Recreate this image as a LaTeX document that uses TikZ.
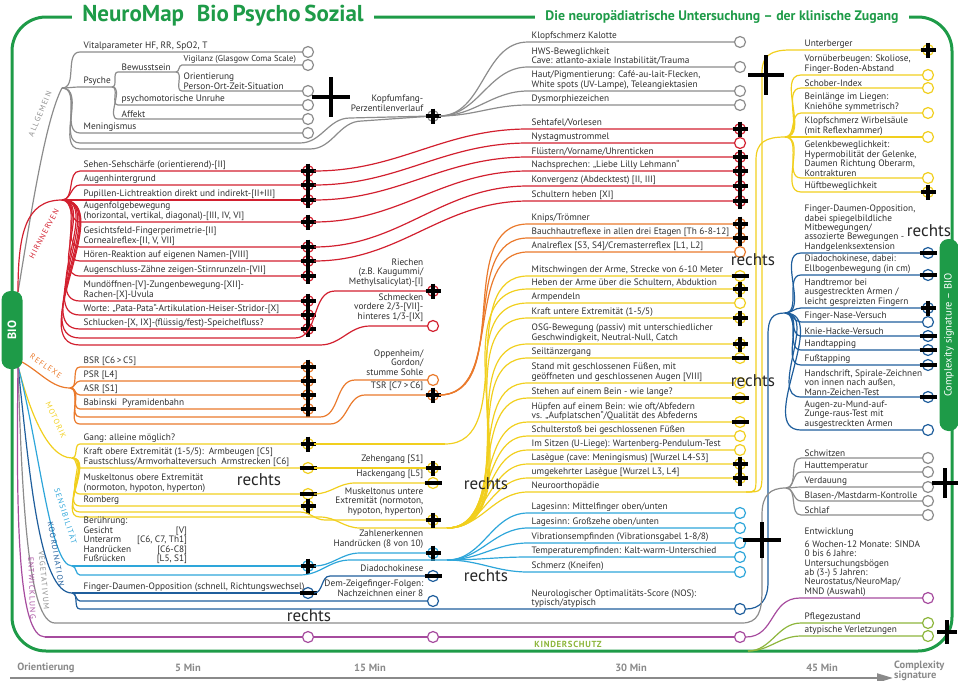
\documentclass[tikz,border=0pt]{standalone}
\usepackage{fontspec}
\setmainfont{PT Sans}
\usetikzlibrary{arrows.meta,calc,positioning}
\definecolor{nmgreen}{HTML}{1E9B48}
\definecolor{txt}{HTML}{2E2E2E}
\definecolor{allg}{HTML}{8C8C8C}
\definecolor{hirn}{HTML}{D2202F}
\definecolor{refl}{HTML}{EA7A2C}
\definecolor{moto}{HTML}{F1CF1E}
\definecolor{sens}{HTML}{2EA6DA}
\definecolor{koor}{HTML}{1F5E9C}
\definecolor{vege}{HTML}{8C8C8C}
\definecolor{entw}{HTML}{A64B9E}
\definecolor{kind}{HTML}{8DB63C}
\definecolor{axgray}{HTML}{8A8A8A}

\newcommand\itemfont{\fontsize{9.3}{9.4}\selectfont}
\newcommand\grpfont{\fontsize{7.8}{7.8}\selectfont\addfontfeature{LetterSpace=14}}

\tikzset{
  leaf/.style={circle,draw,fill=white,line width=1.2pt,minimum size=11pt,inner sep=0pt},
  item/.style={anchor=south west,inner sep=1.5pt,align=left,font=\itemfont,text=txt},
  ritem/.style={item,anchor=south east,align=right},
  twig/.style={line width=1.2pt},
  xmark/.style={line width=3.2pt,black},
  bigx/.style={line width=3.6pt,black},
  grp/.style={font=\grpfont,inner sep=0pt},
  pill/.style={fill=nmgreen,rounded corners=9pt,text=white,inner sep=2pt},
  frm/.style={nmgreen,line width=3pt},
  ttl/.style={fill=white,text=nmgreen,inner xsep=10pt,inner ysep=2pt},
  hand/.style={font=\fontsize{17}{17}\selectfont,text=black!85,inner sep=0pt},
  tlabel/.style={font=\bfseries\fontsize{10.5}{10.5}\selectfont,text=axgray,inner sep=1pt}
}

% end mark on a leaf: p = plus, m = minus, o = none
\newcommand\xmk[2]{%
  \if#1p\draw[xmark] (#2.center) +(-7.5,0) -- +(7.5,0) +(0,-7.5) -- +(0,7.5);\fi
  \if#1m\draw[xmark] (#2.center) +(-8.5,0) -- +(8.5,0);\fi}

% colour, text x, marker x, list of name/y/mark/from/text
\newcommand\leafs[4]{%
  \foreach \nm/\yy/\mk/\src/\lbl in {#4}{%
    \node[leaf,draw=#1] (\nm) at (#3,\yy) {};
    \node[item] (\nm-t) at (#2,\yy) {\lbl};
    \draw[twig,#1] (\src) to[out=0,in=180] (#2-2,\yy) -- (\nm);
    \xmk{\mk}{\nm}
  }}

\begin{document}
\begin{tikzpicture}[x=1pt,y=-1pt]
\useasboundingbox (0,0) rectangle (958,680);

% frame and title
\draw[frm,rounded corners=34pt] (12,17) rectangle (952,651);
\node[ttl,font=\bfseries\fontsize{23}{23}\selectfont] (title) at (223,16) {NeuroMap\hspace{0.55em}Bio\,Psycho\,Sozial};
\node[ttl,font=\bfseries\fontsize{13.8}{13.8}\selectfont] (sub) at (722,17) {Die neuropädiatrische Untersuchung – der klinische Zugang};

% fan points
\coordinate (bioT) at (18,292);
\coordinate (bioR) at (22,362);
\coordinate (bioB) at (18,366);
\coordinate (fA) at (62,88);
\coordinate (fH) at (62,200);
\coordinate (fR) at (70,388);
\coordinate (fM) at (72,458);
\coordinate (fSe) at (72,566);
\coordinate (fK0) at (72,593);
\coordinate (fVe) at (55,623);
\coordinate (fE) at (45,637);
\coordinate (fM2) at (447,528);
\coordinate (fSe2) at (447,560);
\coordinate (fY) at (785,137);
\coordinate (fK) at (785,313);
\coordinate (fV) at (786,488);
\coordinate (fKi) at (748,651);

% branches out of BIO
\draw[twig,allg] (bioT) .. controls (30,220) and (45,120) .. (fA);
\draw[twig,hirn] (bioT) .. controls (18,235) and (25,200) .. (fH);
\draw[twig,refl] (bioR) .. controls (40,372) and (52,388) .. (fR);
\draw[twig,moto] (bioB) .. controls (28,405) and (46,458) .. (fM);
\draw[twig,sens] (bioB) .. controls (40,450) and (50,566) .. (fSe);
\draw[twig,koor] (bioB) .. controls (30,480) and (40,593) .. (fK0);
\draw[twig,vege] (bioB) .. controls (22,500) and (28,623) .. (fVe);
\draw[twig,entw] (bioB) .. controls (16,520) and (18,637) .. (fE);

\node[grp,text=allg,rotate=67] (lA) at (40,114) {ALLGEMEIN};
\node[grp,text=hirn,rotate=62] (lH) at (44,234) {HIRNNERVEN};
\node[grp,text=refl,rotate=-35] (lR) at (46,366) {REFLEXE};
\node[grp,text=moto,rotate=-65] (lM) at (56,420) {MOTORIK};
\node[grp,text=sens,rotate=-72] (lS) at (66,516) {SENSIBILITÄT};
\node[grp,text=koor,rotate=-80] (lK) at (56,554) {KOORDINATION};
\node[grp,text=vege,rotate=-85] (lV) at (44,580) {VEGETATIVUM};
\node[grp,text=entw,rotate=-88] (lE) at (32,588) {ENTWICKLUNG};

% Allgemein
\coordinate (psy) at (112,87);
\coordinate (bew) at (176,72);
\node[item] (psy-t) at (82,87) {Psyche};
\draw[twig,allg] (fA) to[out=0,in=180] (80,87) -- (psy);
\node[item] (bew-t) at (120,72) {Bewusstsein};
\draw[twig,allg] (psy) to[out=0,in=180] (118,72) -- (bew);
\node[leaf,draw=allg] (a2) at (308,65) {};
\node[item,font=\fontsize{8.6}{8.6}\selectfont] (a2-t) at (182,65) {Vigilanz (Glasgow Coma Scale)};
\draw[twig,allg] (bew) to[out=0,in=180] (182,65) -- (a2);
\node[leaf,draw=allg] (a3) at (308,91) {};
\node[item] (a3-t) at (182,91) {Orientierung\\Person-Ort-Zeit-Situation};
\draw[twig,allg] (bew) to[out=0,in=180] (182,91) -- (a3);
\node[leaf,draw=allg] (a4) at (308,105) {};
\node[item] (a4-t) at (120,105) {psychomotorische Unruhe};
\draw[twig,allg] (psy) to[out=0,in=180] (118,105) -- (a4);
\node[leaf,draw=allg] (a5) at (308,119) {};
\node[item] (a5-t) at (120,119) {Affekt};
\draw[twig,allg] (psy) to[out=0,in=180] (118,119) -- (a5);
\leafs{allg}{82}{308}{a1/52/o/fA/{Vitalparameter HF, RR, SpO2, T}, a6/133/o/fA/{Meningismus}}
\node[leaf,draw=allg] (kopf) at (433,116) {};
\node[ritem] (kopf-t) at (425,113) {Kopfumfang-\\Perzentilenverlauf};
\draw[twig,allg] (fA) to[out=0,in=180] (80,143) -- (300,143) to[out=0,in=180] (350,118) -- (kopf);
\draw[twig,allg] (fA) to[out=0,in=180] (80,149) -- (310,149) to[out=0,in=180] (362,121) -- (kopf);
\xmk{p}{kopf}
\leafs{allg}{530}{740}{g1/42/o/kopf/{Klopfschmerz Kalotte}, g2/67/o/kopf/{HWS-Beweglichkeit\\Cave: atlanto-axiale Instabilität/Trauma}, g3/91/o/kopf/{Haut/Pigmentierung: Café-au-lait-Flecken,\\White spots (UV-Lampe), Teleangiektasien}, g4/105/o/kopf/{Dysmorphiezeichen}}

% Hirnnerven
\leafs{hirn}{82}{308}{h1/171/p/fH/{Sehen-Sehschärfe (orientierend)-[II]}, h2/185/p/fH/{Augenhintergrund}, h3/200/p/fH/{Pupillen-Lichtreaktion direkt und indirekt-[II+III]}, h4/222/p/fH/{Augenfolgebewegung\\(horizontal, vertikal, diagonal)-[III, IV, VI]}, h5/247/p/fH/{Gesichtsfeld-Fingerperimetrie-[II]\\Cornealreflex-[II, V, VII]}, h6/261/p/fH/{Hören-Reaktion auf eigenen Namen-[VIII]}, h7/276/p/fH/{Augenschluss-Zähne zeigen-Stirnrunzeln-[VII]}, h8/301/p/fH/{Mundöffnen-[V]-Zungenbewegung-[XII]-\\Rachen-[X]-Uvula}, h9/315/p/fH/{Worte: „Pata-Pata“-Artikulation-Heiser-Stridor-[X]}, h10/329/p/fH/{Schlucken-[X, IX]-(flüssig/fest)-Speichelfluss?}}
\node[leaf,draw=hirn] (riech) at (433,291) {};
\node[ritem] (riech-t) at (425,288) {Riechen\\(z.B. Kaugummi/\\Methylsalicylat)-[I]};
\node[leaf,draw=hirn] (schm) at (433,326) {};
\node[ritem] (schm-t) at (425,323) {Schmecken\\vordere 2/3-[VII]-\\hinteres 1/3-[IX]};
\draw[twig,hirn] (fH) to[out=0,in=180] (80,338) -- (295,338) to[out=0,in=180] (335,291) -- (riech);
\draw[twig,hirn] (fH) to[out=0,in=180] (80,345) -- (320,345) to[out=0,in=180] (370,326) -- (schm);
\xmk{p}{riech}
\leafs{hirn}{530}{740}{hm1/129/p/h1/{Sehtafel/Vorlesen}, hm2/143/o/h2/{Nystagmustrommel}, hm3/157/p/h3/{Flüstern/Vorname/Uhrenticken}, hm4/171/p/h4/{Nachsprechen: „Liebe Lilly Lehmann“}, hm5/186/p/h5/{Konvergenz (Abdecktest) [II, III]}, hm6/201/p/h6/{Schultern heben [XI]}}

% Reflexe
\leafs{refl}{82}{308}{r1/367/p/fR/{BSR [C6\,>\,C5]}, r2/381/p/fR/{PSR [L4]}, r3/395/p/fR/{ASR [S1]}, r4/409/p/fR/{Babinski\ \ Pyramidenbahn}}
\node[leaf,draw=refl] (opp) at (433,380) {};
\node[ritem] (opp-t) at (425,377) {Oppenheim/\\Gordon/\\stumme Sohle};
\node[leaf,draw=refl] (tsr) at (433,395) {};
\node[ritem] (tsr-t) at (425,392) {TSR [C7\,>\,C6]};
\draw[twig,refl] (fR) to[out=0,in=180] (80,417) -- (320,417) to[out=0,in=180] (355,380) -- (opp);
\draw[twig,refl] (fR) to[out=0,in=180] (80,424) -- (330,424) to[out=0,in=180] (365,395) -- (tsr);
\xmk{p}{tsr}
\leafs{refl}{530}{740}{rm1/224/p/tsr/{Knips/Trömner}, rm2/238/p/tsr/{Bauchhautreflexe in allen drei Etagen [Th 6-8-12]}, rm3/252/o/tsr/{Analreflex [S3, S4]/Cremasterreflex [L1, L2]}}

% Motorik
\leafs{moto}{82}{308}{m1/444/p/fM/{Gang: alleine möglich?}, m2/468/m/fM/{Kraft obere Extremität (1-5/5):\ \ Armbeugen [C5]\\Faustschluss/Armvorhalteversuch\ \ Armstrecken [C6]}, m3/494/m/fM/{Muskeltonus obere Extremität\\(normoton, hypoton, hyperton)}, m4/506/p/fM/{Romberg}}
\node[leaf,draw=moto] (zeh) at (433,468) {};
\node[ritem] (zeh-t) at (425,465) {Zehengang [S1]};
\node[leaf,draw=moto] (hack) at (433,483) {};
\node[ritem] (hack-t) at (425,480) {Hackengang [L5]};
\node[leaf,draw=moto] (mtu) at (433,520) {};
\node[ritem] (mtu-t) at (425,517) {Muskeltonus untere\\Extremität (normoton,\\hypoton, hyperton)};
\draw[twig,moto] (m2) -- (zeh);
\draw[twig,moto] (m3) to[out=0,in=180] (355,483) -- (hack);
\draw[twig,moto] (fM) to[out=0,in=180] (80,512) -- (300,512) to[out=0,in=180] (325,520) -- (mtu);
\draw[twig,moto] (fM) to[out=0,in=180] (80,517) -- (320,517) to[out=0,in=180] (360,528) -- (fM2);
\xmk{p}{zeh}
\xmk{m}{hack}
\xmk{p}{mtu}
\coordinate (m1x) at (445,444);
\draw[twig,moto] (m1) -- (m1x);
\leafs{moto}{530}{740}{ym1/276/m/m1x/{Mitschwingen der Arme, Strecke von 6-10 Meter}, ym2/289/p/fM2/{Heben der Arme über die Schultern, Abduktion}, ym3/303/o/fM2/{Armpendeln}, ym4/318/p/fM2/{Kraft untere Extremität (1-5/5)}, ym5/344/p/fM2/{OSG-Bewegung (passiv) mit unterschiedlicher\\Geschwindigkeit, Neutral-Null, Catch}, ym6/358/m/fM2/{Seiltänzergang}, ym7/383/o/fM2/{Stand mit geschlossenen Füßen, mit\\geöffneten und geschlossenen Augen [VIII]}, ym8/398/m/fM2/{Stehen auf einem Bein - wie lange?}, ym9/422/m/fM2/{Hüpfen auf einem Bein: wie oft/Abfedern\\vs. „Aufplatschen“/Qualität des Abfederns}, ym10/436/o/fM2/{Schulterstoß bei geschlossenen Füßen}, ym11/450/o/fM2/{Im Sitzen (U-Liege): Wartenberg-Pendulum-Test}, ym12/464/p/fM2/{Lasègue (cave: Meningismus) [Wurzel L4-S3]}, ym13/478/p/fM2/{umgekehrter Lasègue [Wurzel L3, L4]}}
\coordinate (nor) at (746,492);
\node[item] (nor-t) at (530,492) {Neuroorthopädie};
\draw[twig,moto] (fM2) to[out=0,in=180] (528,492) -- (nor);
\draw[twig,moto] (nor) .. controls (756,492) .. (756,475) -- (756,160) .. controls (756,142) and (766,137) .. (fY);
\node[leaf,draw=moto] (yr1) at (928,50) {};
\node[item] (yr1-t) at (803,50) {Unterberger};
\draw[twig,moto] (nor) .. controls (762,492) .. (762,470) -- (762,72) .. controls (762,55) and (772,50) .. (790,50) -- (yr1);
\xmk{p}{yr1}
\leafs{moto}{803}{928}{yr2/75/o/fY/{Vornüberbeugen: Skoliose,\\Finger-Boden-Abstand}, yr3/88/o/fY/{Schober-Index}, yr4/113/o/fY/{Beinlänge im Liegen:\\Kniehöhe symmetrisch?}, yr5/137/o/fY/{Klopfschmerz Wirbelsäule\\(mit Reflexhammer)}, yr6/178/o/fY/{Gelenkbeweglichkeit:\\Hypermobilität der Gelenke,\\Daumen Richtung Oberarm,\\Kontrakturen}, yr7/192/p/fY/{Hüftbeweglichkeit}}

% Sensibilitaet
\node[leaf,draw=sens] (s1) at (308,566) {};
\node[item] (s1-t) at (82,566) {\begin{tabular}{@{}l@{\hspace{6pt}}r@{}}Berührung: & \\ Gesicht & [V]\\ Unterarm & [C6, C7, Th1]\\ Handrücken & [C6-C8]\\ Fußrücken & [L5, S1]\end{tabular}};
\draw[twig,sens] (fSe) -- (s1);
\xmk{p}{s1}
\node[leaf,draw=sens] (zahl) at (433,553) {};
\node[ritem] (zahl-t) at (425,550) {Zahlenerkennen\\Handrücken (8 von 10)};
\draw[twig,sens] (s1) to[out=0,in=180] (360,553) -- (zahl);
\xmk{p}{zahl}
\draw[twig,sens] (fSe) to[out=0,in=180] (80,575) -- (300,575) to[out=0,in=180] (350,560) -- (fSe2);
\leafs{sens}{530}{740}{sm1/513/o/fSe2/{Lagesinn: Mittelfinger oben/unten}, sm2/528/o/fSe2/{Lagesinn: Großzehe oben/unten}, sm3/543/o/fSe2/{Vibrationsempfinden (Vibrationsgabel 1-8/8)}, sm4/557/o/fSe2/{Temperaturempfinden: Kalt-warm-Unterschied}, sm5/572/o/fSe2/{Schmerz (Kneifen)}}

% Koordination
\node[leaf,draw=koor] (k1) at (308,593) {};
\node[item] (k1-t) at (82,593) {Finger-Daumen-Opposition (schnell, Richtungswechsel)};
\draw[twig,koor] (fK0) -- (k1);
\xmk{m}{k1}
\node[leaf,draw=koor] (diad) at (433,576) {};
\node[ritem] (diad-t) at (425,573) {Diadochokinese};
\draw[twig,koor] (k1) to[out=0,in=180] (330,576) -- (diad);
\xmk{m}{diad}
\node[leaf,draw=koor] (dem) at (433,601) {};
\node[ritem] (dem-t) at (425,598) {Dem-Zeigefinger-Folgen:\\Nachzeichnen einer 8};
\draw[twig,koor] (fK0) to[out=0,in=180] (80,601) -- (dem);
\node[leaf,draw=koor] (nos) at (740,609) {};
\node[item] (nos-t) at (530,609) {Neurologischer Optimalitäts-Score (NOS):\\typisch/atypisch};
\draw[twig,koor] (fK0) to[out=0,in=180] (80,609) -- (nos);
\draw[twig,koor] (nos) .. controls (760,609) and (768,600) .. (768,582) -- (768,335) .. controls (768,318) and (773,313) .. (fK);
\leafs{koor}{803}{928}{kr1/253/m/fK/{Finger-Daumen-Opposition,\\dabei spiegelbildliche\\Mitbewegungen/\\assozierte Bewegungen -\\Handgelenksextension}, kr2/275/m/fK/{Diadochokinese, dabei:\\Ellbogenbewegung (in cm)}, kr3/308/p/fK/{Handtremor bei\\ausgestreckten Armen /\\leicht gespreizten Fingern}, kr4/322/o/fK/{Finger-Nase-Versuch}, kr5/336/m/fK/{Knie-Hacke-Versuch}, kr6/350/m/fK/{Handtapping}, kr7/365/m/fK/{Fußtapping}, kr8/397/m/fK/{Handschrift, Spirale-Zeichnen\\von innen nach außen,\\Mann-Zeichen-Test}, kr9/430/o/fK/{Augen-zu-Mund-auf-\\Zunge-raus-Test mit\\ausgestreckten Armen}}

% Vegetativum
\draw[twig,vege] (fVe) -- (742,623) .. controls (758,623) and (762,612) .. (762,590) -- (762,515) .. controls (762,495) and (770,488) .. (fV);
\leafs{vege}{803}{928}{vr1/458/o/fV/{Schwitzen}, vr2/472/o/fV/{Hauttemperatur}, vr3/487/o/fV/{Verdauung}, vr4/501/o/fV/{Blasen-/Mastdarm-Kontrolle}, vr5/515/o/fV/{Schlaf}}

% Entwicklung
\node[leaf,draw=entw] (e1) at (308,637) {};
\node[leaf,draw=entw] (e2) at (433,637) {};
\node[leaf,draw=entw] (e3) at (740,637) {};
\node[leaf,draw=entw] (er) at (928,598) {};
\node[item] (er-t) at (803,598) {Entwicklung\\[3pt]6 Wochen-12 Monate: SINDA\\0 bis 6 Jahre:\\Untersuchungsbögen\\ab (3-) 5 Jahren:\\Neurostatus/NeuroMap/\\MND (Auswahl)};
\draw[twig,entw] (fE) -- (e1);
\draw[twig,entw] (e1) -- (e2);
\draw[twig,entw] (e2) -- (e3);
\draw[twig,entw] (e3) .. controls (775,637) and (770,598) .. (800,598) -- (er);

% Kinderschutz
\node[font=\bfseries\fontsize{8.8}{8.8}\selectfont\addfontfeature{LetterSpace=8},text=kind] (kl) at (568,644) {KINDERSCHUTZ};
\leafs{kind}{803}{928}{ks1/623/o/fKi/{Pflegezustand}, ks2/636/o/fKi/{atypische Verletzungen}}

% pills
\node[pill,minimum width=78pt,minimum height=21pt,rotate=90,font=\bfseries\fontsize{12}{12}\selectfont] (bio) at (12,330) {BIO};
\node[pill,minimum width=192pt,minimum height=19pt,rotate=90,font=\fontsize{10.5}{10.5}\selectfont] (cs) at (949,335) {Complexity signature – BIO};

% time axis
\node[tlabel] (t0) at (46,668) {Orientierung};
\node[tlabel] (t5) at (188,668) {5 Min};
\node[tlabel] (t15) at (370,668) {15 Min};
\node[tlabel] (t30) at (631,668) {30 Min};
\node[tlabel] (t45) at (822,668) {45 Min};
\node[tlabel,anchor=west,align=left,font=\bfseries\fontsize{10.5}{9}\selectfont] (tcs) at (893,671) {Complexity\\signature};
\coordinate (ax0) at (10,678);
\coordinate (ax1) at (893,678);
\draw[axgray,line width=2pt,-{Triangle[length=16pt,width=9pt]}] (ax0) -- (ax1);

% hand written marks
\foreach \x/\y/\w/\h in {331/97/19/20, 766/75/18/20, 762/540/19/18, 945/483/13/15, 947/632/10/12}
  \draw[bigx] (\x,\y) +(-\w,0) -- +(\w,0) +(0,-\h) -- +(0,\h);
\foreach \x/\y [count=\i] in {259/480, 486/484, 486/576, 309/616, 753/260, 753/381, 929/231}
  \node[hand] (re\i) at (\x,\y) {rechts};
\end{tikzpicture}
\end{document}
